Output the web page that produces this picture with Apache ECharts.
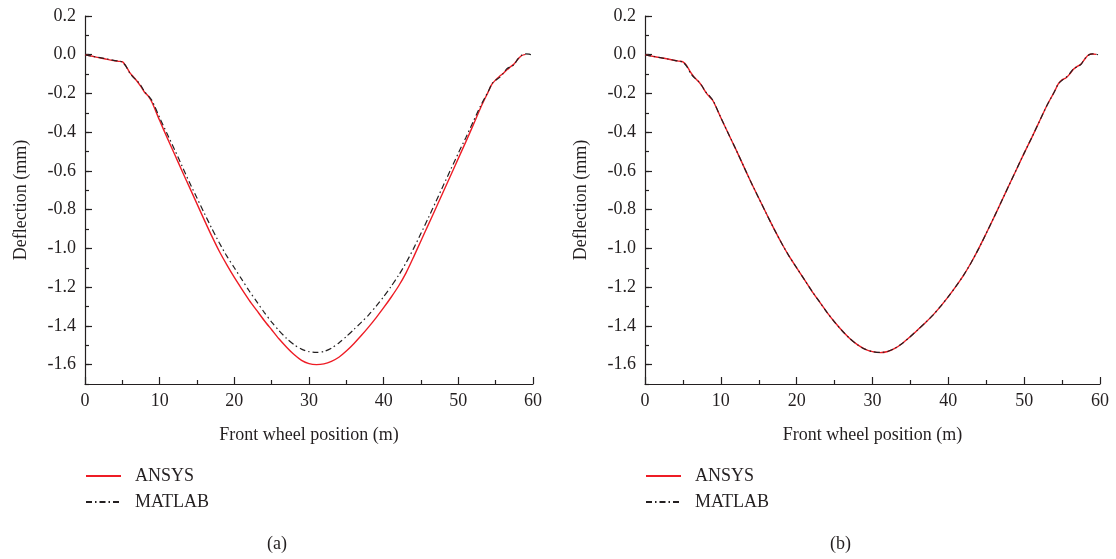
<!DOCTYPE html>
<html>
<head>
<meta charset="utf-8">
<script src="https://cdn.jsdelivr.net/npm/echarts@6/dist/echarts.min.js"></script>
<style>
  html, body { margin: 0; padding: 0; background: #fff; }
  #chart { width: 1116px; height: 559px; }
</style>
</head>
<body>
<div id="chart"></div>
<script>
// front wheel position (m)
const positions = [0, 1, 2, 3, 4, 4.5, 5, 5.5, 6, 6.5, 7, 7.5, 8, 8.5, 9,
  10, 11, 12, 13, 14, 15, 16, 17, 18, 19, 20, 21, 22, 23, 24, 25, 26, 27, 28, 29,
  30, 31, 32, 33, 34, 35, 36, 37, 38, 39, 40, 41, 42, 43, 44, 45, 46, 47, 48, 49,
  50, 51, 52, 53, 54, 54.5, 55, 55.5, 56, 56.5, 57, 57.5, 58, 58.5, 59, 59.5, 60]

// (a) deflection (mm)
const ansysA = [0, -0.008, -0.016, -0.024, -0.031, -0.034, -0.036, -0.060, -0.092, -0.115, -0.138, -0.165, -0.195, -0.215, -0.248,
  -0.340, -0.428, -0.514, -0.60, -0.685, -0.77, -0.855, -0.938, -1.016, -1.085, -1.15, -1.21, -1.268, -1.32, -1.372, -1.42, -1.468, -1.51, -1.548, -1.578,
  -1.595, -1.600, -1.596, -1.583, -1.562, -1.530, -1.492, -1.450, -1.405, -1.357, -1.306, -1.252, -1.194, -1.126, -1.045, -0.960, -0.876, -0.791, -0.706, -0.621,
  -0.535, -0.45, -0.362, -0.272, -0.192, -0.152, -0.130, -0.112, -0.097, -0.078, -0.062, -0.046, -0.022, -0.004, 0.002, null, null]
const matlabA = [0, -0.008, -0.015, -0.022, -0.030, -0.033, -0.038, -0.060, -0.095, -0.118, -0.135, -0.160, -0.192, -0.212, -0.238,
  -0.325, -0.408, -0.49, -0.575, -0.66, -0.74, -0.82, -0.898, -0.972, -1.04, -1.10, -1.16, -1.22, -1.275, -1.33, -1.38, -1.425, -1.465, -1.497, -1.52,
  -1.533, -1.537, -1.532, -1.515, -1.488, -1.455, -1.419, -1.382, -1.343, -1.298, -1.249, -1.196, -1.139, -1.074, -1.001, -0.922, -0.841, -0.758, -0.674, -0.591,
  -0.508, -0.428, -0.345, -0.262, -0.19, -0.150, -0.132, -0.118, -0.098, -0.072, -0.062, -0.050, -0.020, -0.002, 0.004, 0.003, -0.004]

// (b) deflection (mm)
const ansysB = [0, -0.008, -0.015, -0.022, -0.030, -0.033, -0.037, -0.056, -0.090, -0.116, -0.136, -0.161, -0.193, -0.217, -0.240,
  -0.325, -0.408, -0.49, -0.575, -0.66, -0.74, -0.82, -0.898, -0.972, -1.04, -1.10, -1.16, -1.22, -1.275, -1.33, -1.38, -1.425, -1.465, -1.497, -1.52,
  -1.533, -1.538, -1.532, -1.515, -1.488, -1.455, -1.419, -1.382, -1.343, -1.298, -1.249, -1.196, -1.139, -1.074, -1.001, -0.922, -0.841, -0.758, -0.674, -0.591,
  -0.508, -0.428, -0.345, -0.262, -0.19, -0.150, -0.130, -0.120, -0.100, -0.075, -0.060, -0.048, -0.022, 0.000, 0.004, 0.002, null]
const matlabB = [0, -0.008, -0.015, -0.022, -0.030, -0.033, -0.038, -0.060, -0.095, -0.118, -0.135, -0.160, -0.192, -0.212, -0.238,
  -0.325, -0.408, -0.49, -0.575, -0.66, -0.74, -0.82, -0.898, -0.972, -1.04, -1.10, -1.16, -1.22, -1.275, -1.33, -1.38, -1.425, -1.465, -1.497, -1.52,
  -1.533, -1.537, -1.532, -1.515, -1.488, -1.455, -1.419, -1.382, -1.343, -1.298, -1.249, -1.196, -1.139, -1.074, -1.001, -0.922, -0.841, -0.758, -0.674, -0.591,
  -0.508, -0.428, -0.345, -0.262, -0.19, -0.150, -0.132, -0.118, -0.098, -0.072, -0.062, -0.050, -0.020, -0.002, 0.004, 0.003, -0.004]

const xTicks = { min: 0, max: 60, interval: 10 }
const yRange = { min: -1.7, max: 0.2 }
const panelLabels = ['(a)', '(b)']

const FONT = 'Liberation Serif'
const INK = '#231f20'
const RED = '#ee1c25'

const toPairs = (ys) => positions.map((x, i) => [x, ys[i]]).filter((p) => p[1] !== null)

const chart = echarts.init(document.getElementById('chart'))

const grids = [
  { left: 85, top: 16, width: 448, height: 368 },
  { left: 645, top: 16, width: 455, height: 368 },
]

const xAxes = grids.map((g, i) => ({
  type: 'value',
  gridIndex: i,
  min: xTicks.min,
  max: xTicks.max,
  interval: xTicks.interval,
  name: 'Front wheel position (m)',
  nameLocation: 'middle',
  nameGap: 42,
  nameTextStyle: { fontFamily: FONT, fontSize: 18, color: INK },
  axisLine: { show: true, onZero: false, lineStyle: { color: INK, width: 1.2 } },
  axisTick: { show: true, inside: true, length: 7, lineStyle: { color: INK, width: 1.2 } },
  minorTick: { show: true, splitNumber: 2, length: 4, lineStyle: { color: INK, width: 1.2 } },
  axisLabel: { fontFamily: FONT, fontSize: 18, color: INK, margin: 8 },
  splitLine: { show: false },
}))

const yAxes = []
grids.forEach((g, i) => {
  // labelled axis: ticks every 0.2
  yAxes.push({
    type: 'value',
    gridIndex: i,
    position: 'left',
    min: yRange.min,
    max: yRange.max,
    splitNumber: 10,
    name: 'Deflection (mm)',
    nameLocation: 'middle',
    nameGap: 55,
    nameTextStyle: { fontFamily: FONT, fontSize: 18, color: INK },
    axisLine: { show: true, onZero: false, lineStyle: { color: INK, width: 1.2 } },
    axisTick: { show: true, inside: true, length: 7, lineStyle: { color: INK, width: 1.2 } },
    axisLabel: {
      fontFamily: FONT, fontSize: 18, color: INK, margin: 9,
      showMinLabel: false,
      formatter: (v) => (Math.round(v * 10) % 2 === 0 ? v.toFixed(1) : ''),
    },
    splitLine: { show: false },
  })
  // small ticks every 0.1
  yAxes.push({
    type: 'value',
    gridIndex: i,
    position: 'left',
    min: yRange.min,
    max: yRange.max,
    interval: 0.1,
    axisLine: { show: false, onZero: false },
    axisTick: { show: true, inside: true, length: 4, lineStyle: { color: INK, width: 1.2 } },
    axisLabel: { show: false },
    splitLine: { show: false },
  })
})

const panels = [
  { ansys: ansysA, matlab: matlabA },
  { ansys: ansysB, matlab: matlabB },
]

const series = []
panels.forEach((p, i) => {
  series.push({
    name: 'ANSYS',
    type: 'line',
    xAxisIndex: i,
    yAxisIndex: i * 2,
    data: toPairs(p.ansys),
    symbol: 'none',
    smooth: 0.25,
    lineStyle: { color: RED, width: 1.4 },
    itemStyle: { color: RED },
    z: 2,
  })
  series.push({
    name: 'MATLAB',
    type: 'line',
    xAxisIndex: i,
    yAxisIndex: i * 2,
    data: toPairs(p.matlab),
    symbol: 'none',
    smooth: 0.25,
    lineStyle: { color: INK, width: 1.2, type: [6, 3, 1.5, 3] },
    itemStyle: { color: INK },
    z: 3,
  })
})

const legends = grids.map((g) => ({
  orient: 'vertical',
  left: g.left,
  top: 467,
  padding: 0,
  itemWidth: 35,
  itemHeight: 14,
  itemGap: 8,
  selectedMode: false,
  itemStyle: { opacity: 0 },
  data: ['ANSYS', 'MATLAB'],
  textStyle: { fontFamily: FONT, fontSize: 18, color: INK, padding: [0, 0, 0, 9] },
}))

const option = {
  animation: false,
  backgroundColor: '#fff',
  grid: grids,
  xAxis: xAxes,
  yAxis: yAxes,
  legend: legends,
  series,
  graphic: grids.map((g, i) => ({
    type: 'text',
    x: g.left + g.width / 2 - 32,
    y: 544,
    style: {
      text: panelLabels[i],
      align: 'center',
      verticalAlign: 'middle',
      font: `18px "${FONT}"`,
      fill: INK,
    },
  })),
}

chart.setOption(option)
</script>
</body>
</html>
